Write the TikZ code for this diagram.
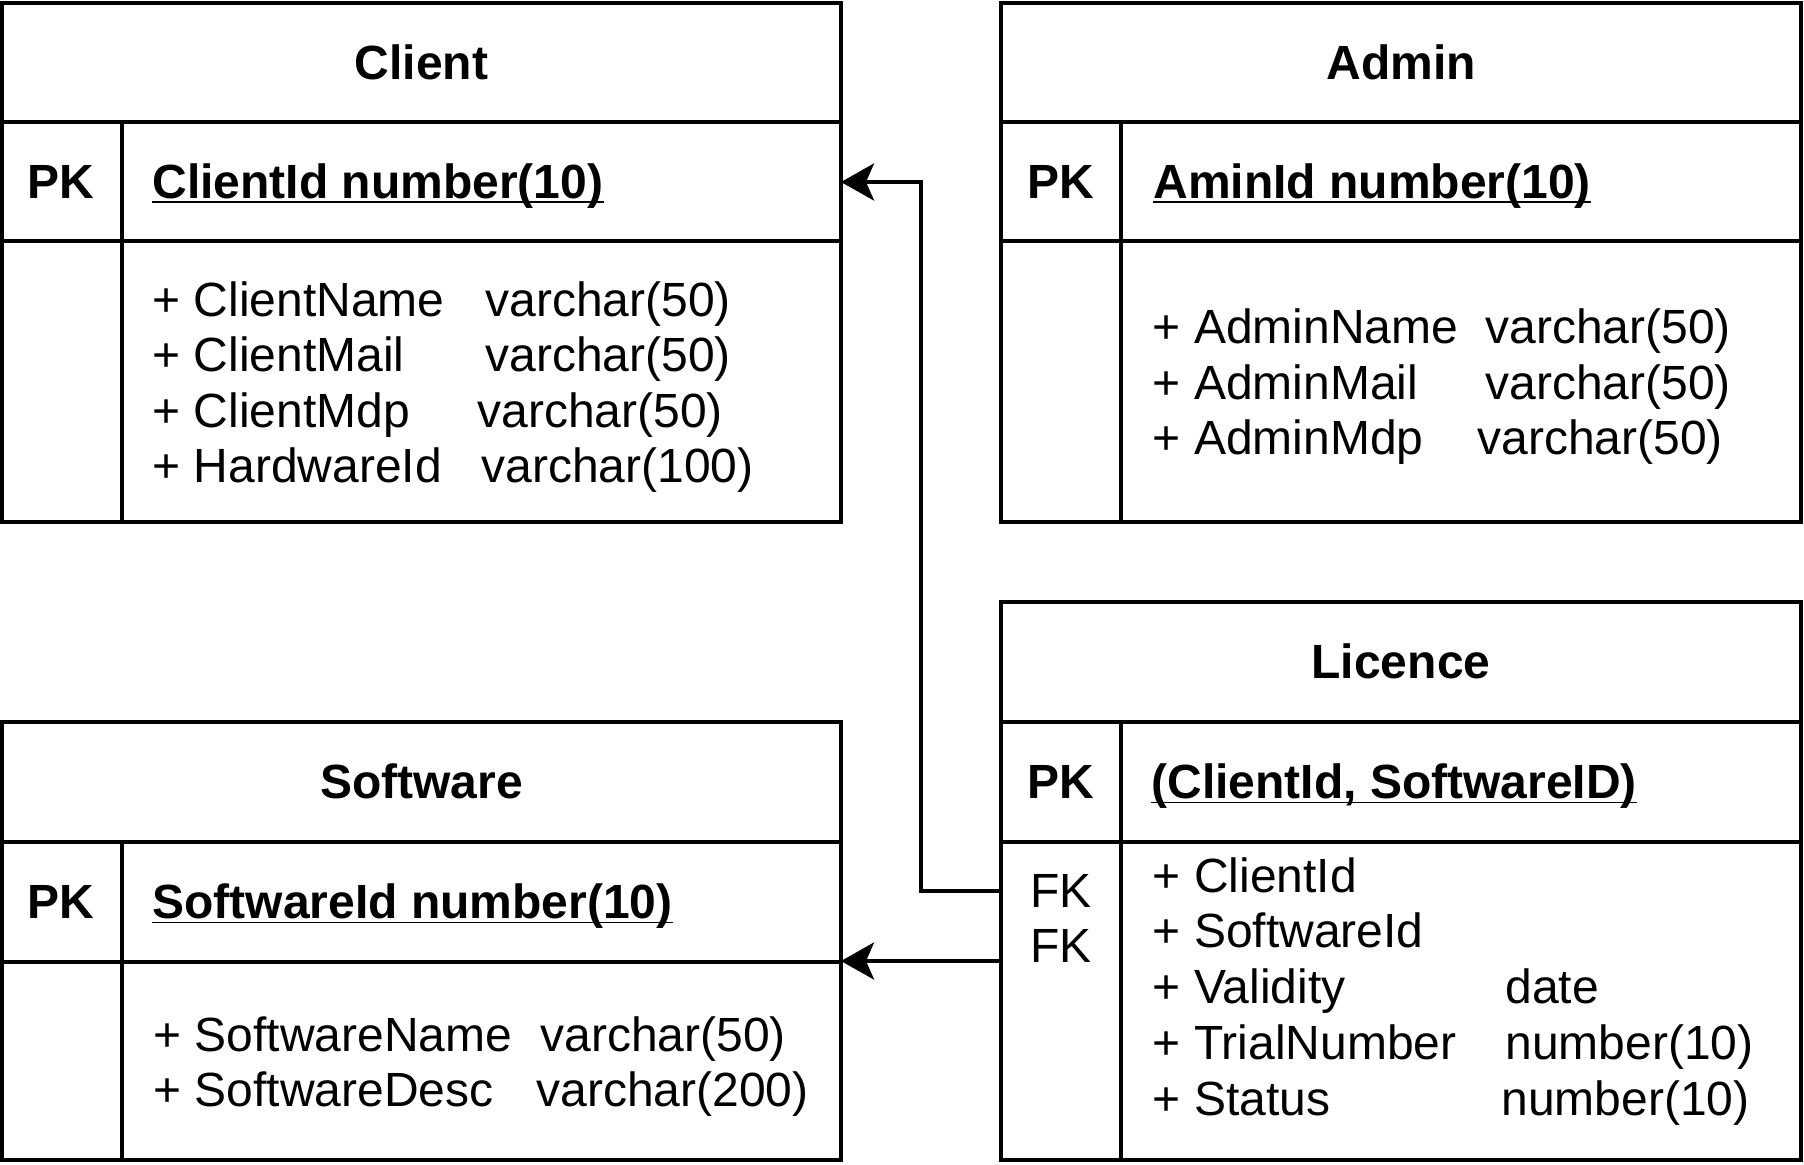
\documentclass[tikz,border=0pt]{standalone}
\usepackage{fontspec}
\setmainfont{Liberation Sans}
\usetikzlibrary{arrows.meta}
\newcommand{\fsz}{\fontsize{24}{28}\selectfont}
\begin{document}
\begin{tikzpicture}[x=0.5pt,y=-0.5pt,
  tbl/.style={draw, line width=2pt, inner sep=0pt, outer sep=0pt, anchor=north west},
  sepline/.style={line width=2pt},
  ttl/.style={font=\bfseries\fsz, inner sep=0pt, anchor=base},
  pklab/.style={font=\bfseries\fsz, inner sep=0pt, anchor=base},
  keytxt/.style={font=\bfseries\fsz, inner sep=0pt, anchor=base west},
  attr/.style={font=\fsz, inner sep=0pt, anchor=base west},
  fklab/.style={font=\fsz, inner sep=0pt, anchor=base},
  uline/.style={line width=0.8pt},
  fkarrow/.style={line width=2pt, -{Stealth[length=16.5pt,width=18.5pt,inset=4pt]}}
]
\useasboundingbox (0,0) rectangle (1804,1164);

% ---------- Client ----------
\node[tbl, minimum width=419.5pt, minimum height=259.5pt] (client) at (2,3) {};
\draw[sepline] (2,122) -- (841,122);
\draw[sepline] (2,241) -- (841,241);
\draw[sepline] (122,122) -- (122,522);
\node[ttl] (clientT) at (421.5,79) {Client};
\node[pklab] (clientPK) at (61,198) {PK};
\node[keytxt] (clientK) at (152,198) {ClientId number(10)};
\draw[uline] ([yshift=-2pt]clientK.base west) -- ([yshift=-2pt]clientK.base east);
\node[attr] (ca1) at (152,316) {+ ClientName};
\node[attr] (ca1t) at (485,316) {varchar(50)};
\node[attr] (ca2) at (152,371.5) {+ ClientMail};
\node[attr] (ca2t) at (485,371.5) {varchar(50)};
\node[attr] (ca3) at (152,427) {+ ClientMdp};
\node[attr] (ca3t) at (477,427) {varchar(50)};
\node[attr] (ca4) at (152,482.5) {+ HardwareId};
\node[attr] (ca4t) at (481,482.5) {varchar(100)};

% ---------- Admin ----------
\node[tbl, minimum width=400pt, minimum height=259.5pt] (admin) at (1001,3) {};
\draw[sepline] (1001,122) -- (1801,122);
\draw[sepline] (1001,241) -- (1801,241);
\draw[sepline] (1121,122) -- (1121,522);
\node[ttl] (adminT) at (1401,79) {Admin};
\node[pklab] (adminPK) at (1061,198) {PK};
\node[keytxt] (adminK) at (1153,198) {AminId number(10)};
\draw[uline] ([yshift=-2pt]adminK.base west) -- ([yshift=-2pt]adminK.base east);
\node[attr] (aa1) at (1152.5,343.5) {+ AdminName};
\node[attr] (aa1t) at (1485,343.5) {varchar(50)};
\node[attr] (aa2) at (1152.5,399) {+ AdminMail};
\node[attr] (aa2t) at (1485,399) {varchar(50)};
\node[attr] (aa3) at (1152.5,454.5) {+ AdminMdp};
\node[attr] (aa3t) at (1477,454.5) {varchar(50)};

% ---------- Licence ----------
\node[tbl, minimum width=400pt, minimum height=279pt] (licence) at (1001,602) {};
\draw[sepline] (1001,722) -- (1801,722);
\draw[sepline] (1001,842) -- (1801,842);
\draw[sepline] (1121,722) -- (1121,1160);
\node[ttl] (licenceT) at (1401,678.5) {Licence};
\node[pklab] (licencePK) at (1061,798.5) {PK};
\node[keytxt] (licenceK) at (1151,798.5) {(ClientId, SoftwareID)};
\draw[uline] ([yshift=-2pt]licenceK.base west) -- ([yshift=-2pt]licenceK.base east);
\node[fklab] (fkA) at (1061,907) {FK};
\node[fklab] (fkB) at (1061,962) {FK};
\node[attr] (la1) at (1152.5,892) {+ ClientId};
\node[attr] (la2) at (1152.5,947.5) {+ SoftwareId};
\node[attr] (la3) at (1152.5,1003) {+ Validity};
\node[attr] (la3t) at (1505,1003) {date};
\node[attr] (la4) at (1152.5,1059) {+ TrialNumber};
\node[attr] (la4t) at (1505,1059) {number(10)};
\node[attr] (la5) at (1152.5,1115) {+ Status};
\node[attr] (la5t) at (1501,1115) {number(10)};

% ---------- Software ----------
\node[tbl, minimum width=419.5pt, minimum height=219pt] (software) at (2,722) {};
\draw[sepline] (2,842) -- (841,842);
\draw[sepline] (2,962) -- (841,962);
\draw[sepline] (122,842) -- (122,1160);
\node[ttl] (softwareT) at (421.5,798.5) {Software};
\node[pklab] (softwarePK) at (61,918.5) {PK};
\node[keytxt] (softwareK) at (152,918.5) {SoftwareId number(10)};
\draw[uline] ([yshift=-2pt]softwareK.base west) -- ([yshift=-2pt]softwareK.base east);
\node[attr] (sa1) at (153,1051) {+ SoftwareName};
\node[attr] (sa1t) at (540,1051) {varchar(50)};
\node[attr] (sa2) at (153,1106.5) {+ SoftwareDesc};
\node[attr] (sa2t) at (536,1106.5) {varchar(200)};

% ---------- Connectors ----------
\coordinate (fk1) at (1001,891);
\coordinate (bend1) at (921,182);
\coordinate (fk2) at (1001,961);
\draw[fkarrow] (licence.west |- fk1) -| (bend1) -- (client.east |- bend1);
\draw[fkarrow] (licence.west |- fk2) -- (software.east |- fk2);
\end{tikzpicture}
\end{document}
